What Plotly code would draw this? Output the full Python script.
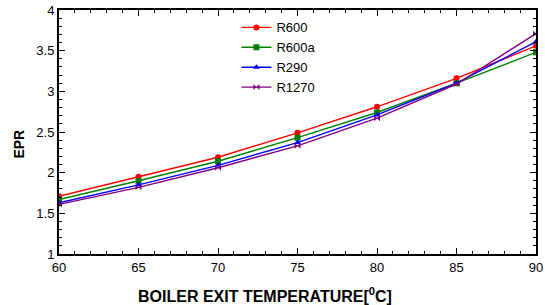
import plotly.graph_objects as go

temps = [60, 65, 70, 75, 80, 85, 90]
r600 = [1.71, 1.95, 2.19, 2.49, 2.81, 3.16, 3.56]
r600a = [1.67, 1.90, 2.14, 2.43, 2.74, 3.10, 3.48]
r290 = [1.63, 1.85, 2.09, 2.37, 2.71, 3.10, 3.61]
r1270 = [1.61, 1.82, 2.06, 2.33, 2.67, 3.09, 3.71]

x_title = "<b>BOILER EXIT TEMPERATURE[<sup>0</sup>C]</b>"
y_title = "<b>EPR</b>"

series = [
    ("R600", r600, "#ff0000", "circle", 6),
    ("R600a", r600a, "#008000", "square", 6),
    ("R290", r290, "#0000ff", "triangle-up", 6),
    ("R1270", r1270, "#800080", "bowtie", 6),
]

fig = go.Figure()
for name, vals, col, sym, sz in series:
    fig.add_trace(go.Scatter(
        x=temps, y=vals, name=name, mode="lines+markers",
        line=dict(color=col, width=1.4),
        marker=dict(symbol=sym, size=sz, color=col),
    ))

font = dict(family="Liberation Sans, Arial, sans-serif", color="black")
fig.update_layout(
    width=545, height=305,
    margin=dict(l=59, r=2, t=10, b=51),
    plot_bgcolor="white", paper_bgcolor="white",
    font=dict(size=13, **font),
    showlegend=True,
    legend=dict(x=0.372, y=0.99, xanchor="left", yanchor="top",
                bgcolor="rgba(0,0,0,0)", font=dict(size=13, **font),
                tracegroupgap=0, itemwidth=30),
    xaxis=dict(
        range=[60, 90], dtick=5, tick0=60,
        showgrid=False, zeroline=False,
        showline=True, linecolor="black", linewidth=2, mirror="allticks",
        ticks="inside", ticklen=6, tickcolor="black", tickwidth=1,
        minor=dict(dtick=1, ticks="inside", ticklen=3, tickcolor="black"),
        tickfont=dict(size=13, **font),
        ticklabeloverflow="allow",
    ),
    yaxis=dict(
        range=[1, 4], dtick=0.5, tick0=1,
        showgrid=False, zeroline=False,
        showline=True, linecolor="black", linewidth=2, mirror="allticks",
        ticks="inside", ticklen=6, tickcolor="black", tickwidth=1,
        minor=dict(dtick=0.1, ticks="inside", ticklen=3, tickcolor="black"),
        tickfont=dict(size=13, **font),
    ),
    annotations=[
        dict(text=x_title, xref="paper", yref="paper",
             x=(268 - 59) / 484, y=-(295 - 254) / 244,
             xanchor="center", yanchor="middle", showarrow=False,
             font=dict(size=16, **font)),
        dict(text=y_title, xref="paper", yref="paper",
             x=-(59 - 18) / 484, y=(254 - 144) / 244,
             xanchor="center", yanchor="middle", showarrow=False,
             textangle=-90, font=dict(size=14, **font)),
    ],
)

fig.write_html(
    "out.html",
    config={"displayModeBar": False},
    post_script="document.body.style.margin='0';document.body.style.overflow='hidden';",
)
